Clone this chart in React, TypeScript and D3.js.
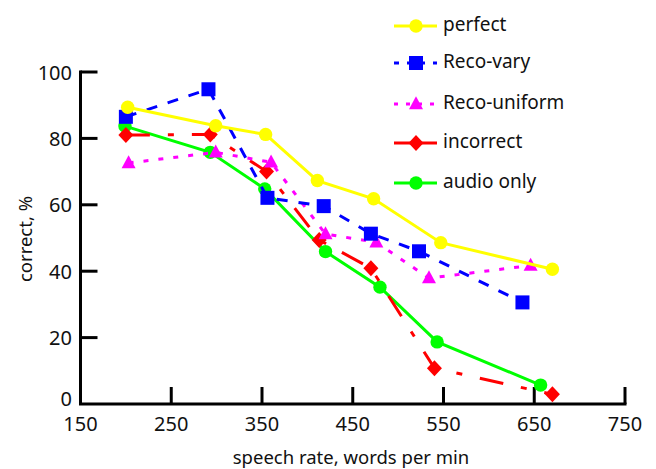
import React from "react";
import * as d3 from "d3";

const speechRatePerfect = [202, 299, 354, 411, 473, 547, 670];
const perfect = [89.4, 83.8, 81.2, 67.3, 61.8, 48.6, 40.6];

const speechRateVary = [200, 291, 356, 418, 470, 523, 637];
const recoVary = [86.5, 94.8, 62.1, 59.6, 51.3, 46.0, 30.6];

const speechRateUniform = [203, 299, 360, 420, 476, 534, 646];
const recoUniform = [72.6, 75.8, 72.8, 51.2, 48.7, 37.9, 41.7];

const speechRateIncorrect = [200, 293, 355, 413, 470, 540, 670];
const incorrect = [81.0, 81.2, 70.0, 49.4, 40.9, 10.8, 2.9];

const speechRateAudio = [199, 293, 353, 420, 480, 543, 657];
const audioOnly = [83.7, 75.8, 64.8, 45.9, 35.2, 18.7, 5.7];

const xTicks = [150, 250, 350, 450, 550, 650, 750];
const yTicks = [0, 20, 40, 60, 80, 100];

type Series = {
  name: string;
  xs: number[];
  ys: number[];
  color: string;
  dash: string | null;
  legendDash: string | null;
  marker: "circle" | "square" | "triangle" | "diamond";
};

const series: Series[] = [
  { name: "audio only", xs: speechRateAudio, ys: audioOnly, color: "#00ff00", dash: null, legendDash: null, marker: "circle" },
  { name: "incorrect", xs: speechRateIncorrect, ys: incorrect, color: "#ff0000", dash: "24,18,6,18", legendDash: null, marker: "diamond" },
  { name: "Reco-uniform", xs: speechRateUniform, ys: recoUniform, color: "#ff00ff", dash: "5,10", legendDash: "4,8", marker: "triangle" },
  { name: "Reco-vary", xs: speechRateVary, ys: recoVary, color: "#0000ff", dash: "11,11", legendDash: "5,8", marker: "square" },
  { name: "perfect", xs: speechRatePerfect, ys: perfect, color: "#ffff00", dash: null, legendDash: null, marker: "circle" },
];

const legendOrder = ["perfect", "Reco-vary", "Reco-uniform", "incorrect", "audio only"];

const FONT = "'Noto Sans', 'Open Sans', sans-serif";

function Marker({ type, x, y, color }: { type: string; x: number; y: number; color: string }) {
  if (type === "circle") return <circle cx={x} cy={y} r={6.7} fill={color} />;
  if (type === "square") return <rect x={x - 7} y={y - 7} width={14} height={14} fill={color} />;
  if (type === "triangle") {
    const s = 14;
    const h = 13;
    return <path d={`M${x},${y - h * 0.6}L${x + s / 2},${y + h * 0.4}L${x - s / 2},${y + h * 0.4}Z`} fill={color} />;
  }
  return <path d={`M${x},${y - 8}L${x + 7.5},${y}L${x},${y + 8}L${x - 7.5},${y}Z`} fill={color} />;
}

export default function App() {
  const W = 656;
  const H = 469;
  const x = d3.scaleLinear().domain([150, 750]).range([80.5, 625]);
  const y = d3.scaleLinear().domain([0, 100]).range([404, 72]);
  const line = d3.line<[number, number]>().x((d) => x(d[0])).y((d) => y(d[1]));

  return (
    <svg width={W} height={H} style={{ position: "absolute", left: 0, top: 0, background: "#fff" }} fontFamily={FONT}>
      {/* axes */}
      <g stroke="#000" strokeWidth={3} fill="none">
        <path d={`M${x(150)},${y(100)}V${y(0)}H${x(750)}`} strokeLinecap="square" />
        {yTicks.filter((t) => t > 0).map((t) => (
          <line key={"yt" + t} x1={x(150)} x2={x(150) + 17} y1={y(t)} y2={y(t)} />
        ))}
        {xTicks.filter((t) => t > 150).map((t) => (
          <line key={"xt" + t} x1={x(t)} x2={x(t)} y1={y(0)} y2={y(0) - 17} />
        ))}
      </g>
      <g fontSize={20} fill="#111">
        {yTicks.map((t) => (
          <text key={"yl" + t} x={72} y={y(t) + (t === 0 ? -6 : 0)} textAnchor="end" dominantBaseline="central">
            {t}
          </text>
        ))}
        {xTicks.map((t) => (
          <text key={"xl" + t} x={x(t)} y={423} textAnchor="middle" dominantBaseline="central">
            {t}
          </text>
        ))}
      </g>
      <text x={351} y={456} fontSize={18.5} textAnchor="middle" dominantBaseline="central" fill="#111">
        speech rate, words per min
      </text>
      <text
        transform={`translate(24,${239}) rotate(-90)`}
        fontSize={18.5}
        textAnchor="middle"
        dominantBaseline="central"
        fill="#111"
      >
        correct, %
      </text>

      {/* series */}
      {series.map((s) => {
        const pts = s.xs.map((v, i) => [v, s.ys[i]] as [number, number]);
        return (
          <g key={s.name}>
            <path d={line(pts) || ""} fill="none" stroke={s.color} strokeWidth={3} strokeDasharray={s.dash || undefined} />
            {pts.map((p, i) => (
              <Marker key={i} type={s.marker} x={x(p[0])} y={y(p[1])} color={s.color} />
            ))}
          </g>
        );
      })}

      {/* legend */}
      {legendOrder.map((name, i) => {
        const s = series.find((d) => d.name === name)!;
        const ly = [26, 63, 104, 143, 183][i];
        return (
          <g key={"lg" + name}>
            <line x1={394} x2={437} y1={ly} y2={ly} stroke={s.color} strokeWidth={3} strokeDasharray={s.legendDash || undefined} />
            <Marker type={s.marker} x={416} y={ly} color={s.color} />
            <text x={443} y={ly - 2} fontSize={19} dominantBaseline="central" fill="#111">
              {name}
            </text>
          </g>
        );
      })}
    </svg>
  );
}
